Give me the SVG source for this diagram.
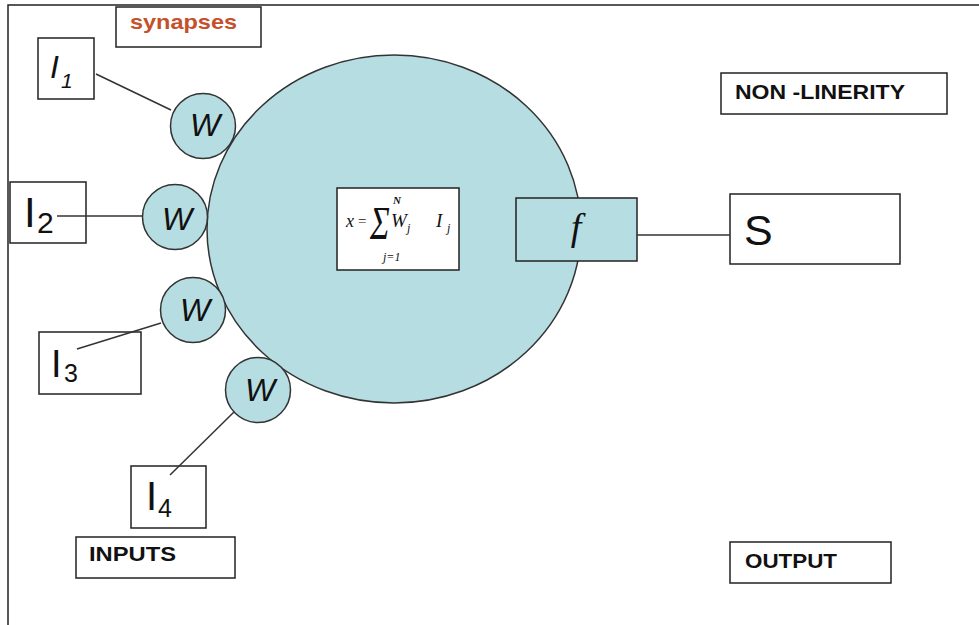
<svg xmlns="http://www.w3.org/2000/svg" width="979" height="625" viewBox="0 0 979 625">
<style>
.box{fill:#ffffff;stroke:#222;stroke-width:1.5}
.blue{fill:#b6dde2;stroke:#333;stroke-width:1.5}
.line{stroke:#333;stroke-width:1.5;fill:none}
.sans{font-family:"Liberation Sans",Arial,sans-serif;fill:#111}
.serif{font-family:"Liberation Serif","Times New Roman",serif;fill:#111;font-style:italic}
.lbl{font-family:"Liberation Sans",Arial,sans-serif;font-weight:bold;fill:#111}
.w{font-family:"Liberation Sans",Arial,sans-serif;font-style:italic;font-size:32px;fill:#111;text-anchor:middle}
</style>
<rect x="0" y="0" width="979" height="625" fill="#ffffff"/>
<rect x="8" y="5" width="1000" height="700" fill="none" stroke="#222" stroke-width="1.5"/>

<g id="neuron">
<ellipse class="blue" cx="394" cy="229" rx="187" ry="174"/>
</g>

<g id="synapses-label">
<rect class="box" x="116" y="7" width="145" height="40"/>
<text class="lbl" x="130" y="29" font-size="21" style="fill:#c4502c" textLength="107" lengthAdjust="spacingAndGlyphs">synapses</text>
</g>

<g id="input1">
<rect class="box" x="38" y="38" width="56" height="61"/>
<text class="sans" x="50" y="78" font-size="32" font-style="italic">I</text>
<text class="sans" x="61" y="88" font-size="21" font-style="italic">1</text>
</g>
<g id="input2">
<rect class="box" x="10" y="182" width="76" height="61"/>
<text class="sans" x="24" y="227" font-size="42">I</text>
<text class="sans" x="37" y="233" font-size="30">2</text>
</g>
<g id="input3">
<rect class="box" x="39" y="332" width="102" height="62"/>
<text class="sans" x="51" y="377" font-size="38">I</text>
<text class="sans" x="64" y="382" font-size="25">3</text>
</g>
<g id="input4">
<rect class="box" x="131" y="466" width="75" height="62"/>
<text class="sans" x="146" y="510" font-size="40">I</text>
<text class="sans" x="158" y="517" font-size="25">4</text>
</g>

<g id="w1">
<circle class="blue" cx="203" cy="126" r="32.5"/>
<text class="w" x="205" y="136">W</text>
</g>
<g id="w2">
<circle class="blue" cx="175" cy="217" r="32.5"/>
<text class="w" x="177" y="230">W</text>
</g>
<g id="w3">
<circle class="blue" cx="193" cy="310" r="32.5"/>
<text class="w" x="195" y="321">W</text>
</g>
<g id="w4">
<circle class="blue" cx="258" cy="390" r="32.5"/>
<text class="w" x="260" y="401">W</text>
</g>

<g id="sum">
<rect class="box" x="337" y="188" width="122" height="82"/>
<text class="serif" x="346" y="227" font-size="18">x</text>
<text class="serif" x="357" y="226" font-size="15" font-style="normal">=</text>
<text class="serif" transform="translate(370,239) scale(0.72,1)" font-size="46" font-style="normal">Σ</text>
<text class="serif" x="393" y="204" font-size="11" font-weight="bold">N</text>
<text class="serif" x="383" y="261" font-size="12">j=1</text>
<text class="serif" x="391" y="227" font-size="19">W</text>
<text class="serif" x="407" y="232" font-size="12">j</text>
<text class="serif" x="436" y="227" font-size="19">I</text>
<text class="serif" x="447" y="232" font-size="12">j</text>
</g>

<g id="activation">
<rect class="blue" x="516" y="198" width="121" height="63" style="stroke:#222"/>
<text class="serif" x="576" y="240" font-size="38" text-anchor="middle">f</text>
</g>

<g id="nonlinearity-label">
<rect class="box" x="721" y="73" width="226" height="41"/>
<text class="lbl" x="735" y="99" font-size="20" textLength="170" lengthAdjust="spacingAndGlyphs">NON -LINERITY</text>
</g>

<g id="output">
<rect class="box" x="730" y="194" width="170" height="70"/>
<text class="sans" x="744" y="245" font-size="43">S</text>
</g>

<g id="output-label">
<rect class="box" x="730" y="542" width="161" height="41"/>
<text class="lbl" x="745" y="568" font-size="21" textLength="92" lengthAdjust="spacingAndGlyphs">OUTPUT</text>
</g>

<g id="inputs-label">
<rect class="box" x="76" y="537" width="159" height="41"/>
<text class="lbl" x="89" y="561" font-size="21" textLength="87" lengthAdjust="spacingAndGlyphs">INPUTS</text>
</g>

<g id="connectors">
<line class="line" x1="96" y1="74" x2="171" y2="110"/>
<line class="line" x1="57" y1="216" x2="142" y2="216"/>
<line class="line" x1="77" y1="349" x2="161" y2="323"/>
<line class="line" x1="170" y1="475" x2="234" y2="412"/>
<line class="line" x1="637" y1="235" x2="730" y2="235"/>
</g>
</svg>
